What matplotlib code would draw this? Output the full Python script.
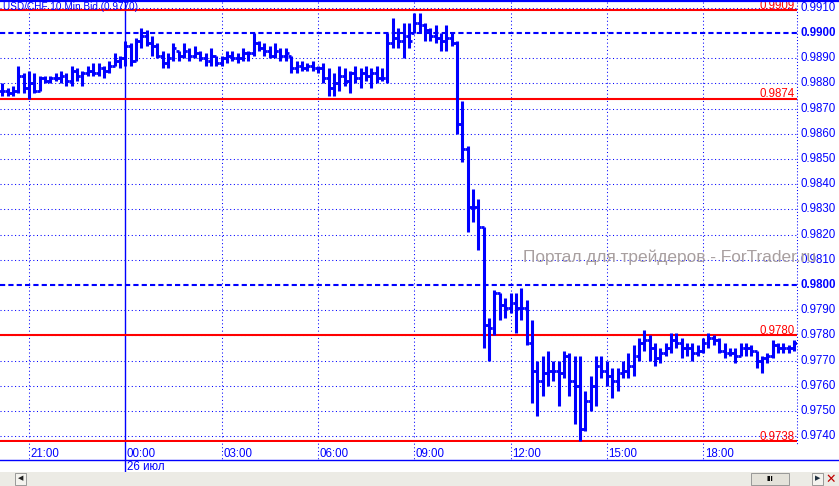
import numpy as np
import matplotlib
matplotlib.use('Agg')
import matplotlib.pyplot as plt
from matplotlib.patches import Rectangle
from matplotlib.lines import Line2D
import matplotlib.transforms as mtransforms

plt.rcParams['font.family'] = ['Liberation Sans', 'DejaVu Sans']

# USD/CHF 10-minute bars, 20:10 -> 20:50 next day
highs = [
    0.9880, 0.9878, 0.9879, 0.9887, 0.9884, 0.9885, 0.9884, 0.9883, 0.9883, 0.9883,
    0.9884, 0.9885, 0.9884, 0.9887, 0.9886, 0.9885, 0.9887, 0.9888, 0.9888, 0.9887,
    0.9889, 0.9892, 0.9891, 0.9897, 0.9896, 0.9898, 0.9902, 0.9901, 0.9899, 0.9896,
    0.9893, 0.9892, 0.9896, 0.9893, 0.9896, 0.9894, 0.9895, 0.9893, 0.9892, 0.9894,
    0.9891, 0.9891, 0.9893, 0.9893, 0.9892, 0.9894, 0.9893, 0.9900, 0.9897, 0.9896,
    0.9895, 0.9896, 0.9894, 0.9894, 0.9891, 0.9889, 0.9889, 0.9888, 0.9889, 0.9887,
    0.9888, 0.9886, 0.9884, 0.9887, 0.9886, 0.9885, 0.9887, 0.9886, 0.9887, 0.9886,
    0.9887, 0.9886, 0.9900, 0.9906, 0.9902, 0.9904, 0.9904, 0.9908, 0.9908, 0.9904,
    0.9902, 0.9903, 0.9900, 0.9903, 0.9900, 0.9897, 0.9873, 0.9855, 0.9838, 0.9834,
    0.9823, 0.9787, 0.9798, 0.9797, 0.9795, 0.9797, 0.9797, 0.9799, 0.9794, 0.9786,
    0.9770, 0.9772, 0.9774, 0.9770, 0.9770, 0.9774, 0.9773, 0.9772, 0.9772, 0.9758,
    0.9764, 0.9772, 0.9772, 0.9770, 0.9767, 0.9767, 0.9770, 0.9773, 0.9776, 0.9779,
    0.9782, 0.9780, 0.9777, 0.9775, 0.9777, 0.9781, 0.9781, 0.9779, 0.9777, 0.9777,
    0.9776, 0.9779, 0.9781, 0.9780, 0.9779, 0.9777, 0.9775, 0.9775, 0.9777, 0.9777,
    0.9776, 0.9774, 0.9772, 0.9773, 0.9778, 0.9777, 0.9777, 0.9776, 0.9778,
]
lows = [
    0.9875, 0.9875, 0.9875, 0.9876, 0.9876, 0.9874, 0.9876, 0.9877, 0.9880, 0.9880,
    0.9881, 0.9880, 0.9879, 0.9879, 0.9881, 0.9879, 0.9883, 0.9883, 0.9883, 0.9882,
    0.9884, 0.9887, 0.9886, 0.9887, 0.9887, 0.9889, 0.9894, 0.9895, 0.9891, 0.9890,
    0.9886, 0.9886, 0.9889, 0.9889, 0.9890, 0.9889, 0.9890, 0.9889, 0.9887, 0.9887,
    0.9887, 0.9887, 0.9888, 0.9889, 0.9888, 0.9889, 0.9889, 0.9891, 0.9893, 0.9891,
    0.9890, 0.9890, 0.9889, 0.9889, 0.9884, 0.9884, 0.9885, 0.9885, 0.9885, 0.9884,
    0.9880, 0.9875, 0.9875, 0.9877, 0.9879, 0.9876, 0.9880, 0.9878, 0.9881, 0.9878,
    0.9880, 0.9881, 0.9880, 0.9894, 0.9894, 0.9890, 0.9894, 0.9900, 0.9900, 0.9897,
    0.9897, 0.9896, 0.9893, 0.9893, 0.9895, 0.9860, 0.9849, 0.9821, 0.9825, 0.9814,
    0.9775, 0.9770, 0.9780, 0.9786, 0.9787, 0.9789, 0.9781, 0.9786, 0.9776, 0.9753,
    0.9748, 0.9756, 0.9760, 0.9762, 0.9752, 0.9763, 0.9756, 0.9745, 0.9738, 0.9742,
    0.9750, 0.9752, 0.9763, 0.9760, 0.9755, 0.9758, 0.9763, 0.9763, 0.9764, 0.9770,
    0.9774, 0.9770, 0.9768, 0.9769, 0.9772, 0.9773, 0.9775, 0.9771, 0.9772, 0.9770,
    0.9772, 0.9773, 0.9775, 0.9776, 0.9773, 0.9771, 0.9772, 0.9769, 0.9772, 0.9772,
    0.9772, 0.9767, 0.9765, 0.9769, 0.9771, 0.9773, 0.9773, 0.9773, 0.9774,
]
closes = [
    0.9877, 0.9876, 0.9877, 0.9883, 0.9878, 0.9880, 0.9877, 0.9882, 0.9881, 0.9882,
    0.9882, 0.9883, 0.9881, 0.9885, 0.9883, 0.9884, 0.9885, 0.9884, 0.9886, 0.9885,
    0.9887, 0.9889, 0.9890, 0.9895, 0.9889, 0.9897, 0.9899, 0.9896, 0.9895, 0.9891,
    0.9888, 0.9890, 0.9894, 0.9891, 0.9893, 0.9891, 0.9892, 0.9890, 0.9889, 0.9891,
    0.9888, 0.9890, 0.9891, 0.9890, 0.9890, 0.9892, 0.9892, 0.9896, 0.9894, 0.9893,
    0.9891, 0.9893, 0.9891, 0.9892, 0.9886, 0.9887, 0.9886, 0.9887, 0.9886, 0.9886,
    0.9882, 0.9878, 0.9880, 0.9883, 0.9881, 0.9884, 0.9882, 0.9884, 0.9883, 0.9884,
    0.9882, 0.9882, 0.9896, 0.9898, 0.9897, 0.9899, 0.9897, 0.9904, 0.9903, 0.9901,
    0.9899, 0.9898, 0.9897, 0.9898, 0.9896, 0.9864, 0.9854, 0.9831, 0.9831, 0.9823,
    0.9784, 0.9783, 0.9797, 0.9792, 0.9791, 0.9793, 0.9791, 0.9791, 0.9777, 0.9766,
    0.9762, 0.9765, 0.9766, 0.9766, 0.9765, 0.9772, 0.9762, 0.9760, 0.9743, 0.9754,
    0.9760, 0.9768, 0.9766, 0.9764, 0.9762, 0.9765, 0.9766, 0.9768, 0.9772, 0.9777,
    0.9778, 0.9775, 0.9771, 0.9773, 0.9775, 0.9778, 0.9777, 0.9775, 0.9775, 0.9773,
    0.9774, 0.9777, 0.9779, 0.9778, 0.9774, 0.9773, 0.9773, 0.9772, 0.9775, 0.9775,
    0.9774, 0.9770, 0.9771, 0.9772, 0.9776, 0.9775, 0.9775, 0.9775, 0.9777,
]

time_pos = [5, 23, 41, 59, 77, 95, 113, 131]
time_labels = ['21:00', '00:00', '03:00', '06:00', '09:00', '12:00', '15:00', '18:00']
price_ticks = np.round(np.arange(0.9740, 0.99101, 0.0010), 4)
red_levels = [0.9909, 0.9874, 0.9780, 0.9738]

W, H = 839, 486
blue = '#0000ff'

fig = plt.figure(figsize=(W / 100, H / 100), dpi=100)
fig.patch.set_facecolor('white')
ax = fig.add_axes([0, (H - 442) / H, 797 / W, 440 / H])
ax.set_xlim(-0.42, 148.55)
ax.set_ylim(0.97377, 0.99123)
ax.axis('off')

yax = mtransforms.blended_transform_factory(ax.transAxes, ax.transData)
xax = ax.get_xaxis_transform()

# horizontal grid + right price labels
for p in price_ticks:
    if np.isclose(p, 0.99) or np.isclose(p, 0.98):
        ax.axhline(p, color=blue, lw=1.5, ls=(0, (2.5, 1.5)), zorder=1)
        ax.text(1.004, p, f'{p:.4f}', transform=yax, ha='left', va='center',
                color=blue, fontsize=8.3, fontweight='bold', clip_on=False)
    else:
        ax.axhline(p, color=blue, lw=0.75, ls=(0, (1, 2.5)), zorder=1)
        ax.text(1.004, p, f'{p:.4f}', transform=yax, ha='left', va='center',
                color=blue, fontsize=8.3, clip_on=False)

# vertical grid and time labels
for t, lab in zip(time_pos, time_labels):
    if lab == '00:00':
        ax.plot([t, t], [1.0, -0.068], transform=xax, color=blue, lw=1.0,
                clip_on=False, zorder=1)
        ax.text(t + 0.3, -0.057, '26 июл', transform=xax, ha='left', va='center',
                color=blue, fontsize=8.3, clip_on=False)
    else:
        ax.plot([t, t], [1.0, -0.041], transform=xax, color=blue, lw=0.75,
                ls=(0, (1, 2.5)), clip_on=False, zorder=1)
    ax.text(t + 0.3, -0.027, lab, transform=xax, ha='left', va='center',
            color=blue, fontsize=8.3, clip_on=False)

# right axis line
ax.plot([1, 1], [1.0, -0.007], transform=ax.transAxes, color=blue, lw=0.75,
        ls=(0, (1, 2)), clip_on=False)

# red levels with labels sitting on the line
for lv in red_levels:
    ax.axhline(lv, color='#ff0000', lw=1.5, zorder=2)
    ax.text(0.997, lv + 0.00005, f'{lv:.4f}', transform=yax, ha='right', va='baseline',
            color='#ff0000', fontsize=8.3, zorder=3)

# OHLC bars
x = np.arange(len(closes))
hi = np.array(highs)
lo = np.array(lows)
cl = np.array(closes)
op = np.clip(np.r_[cl[0], cl[:-1]], lo, hi)
ax.vlines(x, lo, hi, color=blue, lw=2.2, zorder=4)
ax.hlines(op, x - 0.55, x, color=blue, lw=2.0, zorder=4)
ax.hlines(cl, x, x + 0.55, color=blue, lw=2.0, zorder=4)

# title and watermark
fig.text(3 / W, 1 - 7 / H, 'USD/CHF 10 Min Bid (0.9770)', color=blue, fontsize=7.2,
         va='center', ha='left')
fig.text(523 / W, 1 - 257 / H, 'Портал для трейдеров - ForTrader.ru', color='#a89f9f',
         fontsize=12.4, va='center', ha='left')

# frame lines
fig.add_artist(Line2D([0, 1], [1 - 1 / H, 1 - 1 / H], color=blue, lw=1.6))
fig.add_artist(Line2D([0, 1], [1 - 460 / H, 1 - 460 / H], color=blue, lw=1.0))

# bottom scrollbar strip
fig.add_artist(Rectangle((0, 0), 1, 14 / H, transform=fig.transFigure,
                         facecolor='#ecebe5', edgecolor='none'))
fig.add_artist(Rectangle((15 / W, 1 / H), 11 / W, 12 / H, transform=fig.transFigure,
                         facecolor='#f4f3ee', edgecolor='#8c8c8c', lw=0.6))
fig.text(20.5 / W, 7 / H, '◀', fontsize=5, ha='center', va='center', color='#202020')
fig.add_artist(Rectangle((751 / W, 1 / H), 38 / W, 12 / H, transform=fig.transFigure,
                         facecolor='#e4e2da', edgecolor='#8c8c8c', lw=0.6))
fig.text(770 / W, 7 / H, 'III', fontsize=6, fontweight='bold', ha='center',
         va='center', color='black')
fig.add_artist(Rectangle((812 / W, 1 / H), 11 / W, 12 / H, transform=fig.transFigure,
                         facecolor='#f4f3ee', edgecolor='#8c8c8c', lw=0.6))
fig.text(817.5 / W, 7 / H, '▶', fontsize=5, ha='center', va='center', color='#203040')
fig.text(831 / W, 7 / H, '✕', fontsize=9, ha='center', va='center', color='#c00000',
         family=['DejaVu Sans'])

fig.savefig('out.png', dpi=100)
